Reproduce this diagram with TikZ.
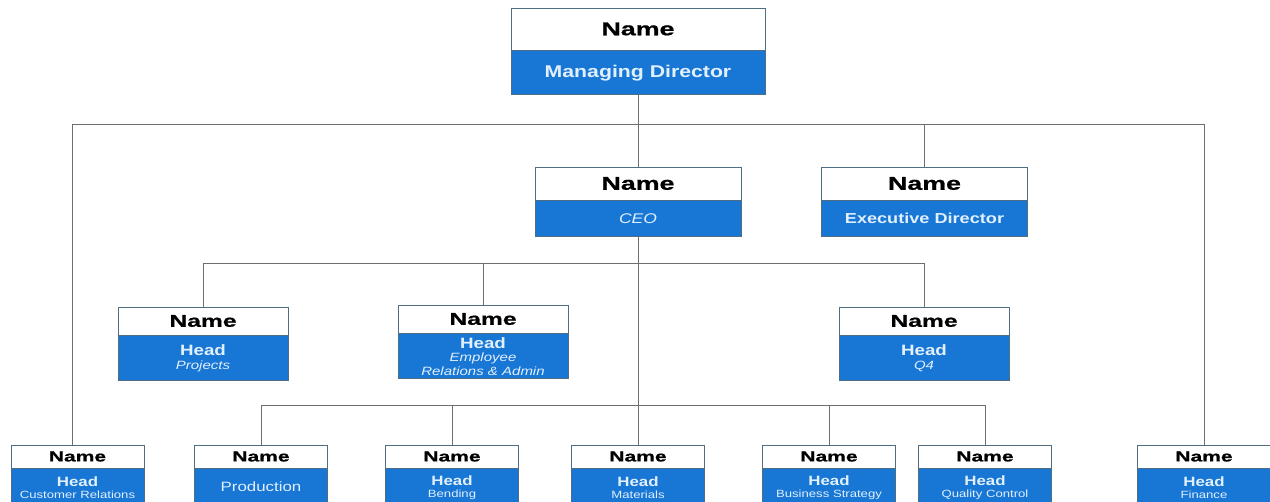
\documentclass[tikz,border=0pt]{standalone}
\usepackage{fontspec}
\setmainfont{Liberation Sans}
\newfontfamily\namefont[FakeStretch=1.45,FakeBold=0.8]{Liberation Sans}
\newfontfamily\labfont[FakeStretch=1.25]{Liberation Sans}
\definecolor{orgblue}{RGB}{24,118,212}
\definecolor{edge}{RGB}{80,110,130}
\definecolor{rolefg}{RGB}{225,240,255}
\definecolor{wire}{RGB}{110,110,110}
\tikzset{
  namecell/.style={draw=edge, line width=0.8pt, fill=white, inner sep=0pt, text=black,
    font=\namefont\bfseries\fontsize{#1}{#1}\selectfont},
  rolecell/.style={draw=edge, line width=0.8pt, fill=orgblue, inner sep=0pt, text=rolefg,
    align=center, anchor=north},
  link/.style={draw=wire, line width=0.9pt},
  bigrole/.style={font=\labfont\bfseries\fontsize{#1}{#1}\selectfont},
  headrole/.style={font=\labfont\bfseries\fontsize{#1}{#1}\selectfont},
}
\newcommand\subit[2]{{\mdseries\itshape\fontsize{#1}{#1}\selectfont #2}}
\newcommand\subrm[2]{{\mdseries\fontsize{#1}{#1}\selectfont #2}}
\begin{document}
\begin{tikzpicture}[x=1pt,y=-1pt]
\clip (0,0) rectangle (1270,502);
\fill[white] (0,0) rectangle (1270,502);

% top level
\node[namecell=18.5, minimum width=254, minimum height=42] (md) at (638,29) {Name};
\node[rolecell, bigrole=17, minimum width=254, minimum height=44] (mdr) at (md.south) {Managing Director};

% second level
\node[namecell=18.5, minimum width=206, minimum height=33] (ceo) at (638,183.5) {Name};
\node[rolecell, minimum width=206, minimum height=36,
  font=\labfont\itshape\fontsize{14}{14}\selectfont] (ceor) at (ceo.south) {CEO};
\node[namecell=18.5, minimum width=206, minimum height=33] (ed) at (924.5,183.5) {Name};
\node[rolecell, bigrole=14.5, minimum width=206, minimum height=36] (edr) at (ed.south) {Executive Director};

% third level
\node[namecell=17, minimum width=170, minimum height=28] (pr) at (203,321) {Name};
\node[rolecell, headrole=15, minimum width=170, minimum height=45] (prr) at (pr.south)
  {Head\\[-1pt]\subit{12}{Projects}};
\node[namecell=17, minimum width=170, minimum height=28] (er) at (483,319) {Name};
\node[rolecell, headrole=15, minimum width=170, minimum height=45] (err) at (er.south)
  {Head\\[-2pt]\subit{12}{Employee}\\[-1pt]\subit{12}{Relations \& Admin}};
\node[namecell=17, minimum width=170, minimum height=28] (q4) at (924,321) {Name};
\node[rolecell, headrole=15, minimum width=170, minimum height=45] (q4r) at (q4.south)
  {Head\\[-1pt]\subit{12}{Q4}};

% bottom level
\foreach \id/\cx/\sub in {cr/77.5/Customer Relations, bd/452/Bending, mt/638/Materials,
    bs/829/Business Strategy, qc/985/Quality Control, fn/1204/Finance}{
  \node[namecell=14.5, minimum width=133, minimum height=23] (\id) at (\cx,456.5) {Name};
  \node[rolecell, headrole=13.5, minimum width=133, minimum height=38] (\id r) at (\id.south)
    {Head\\[-2pt]\subrm{10.5}{\sub}};
}
\node[namecell=14.5, minimum width=133, minimum height=23] (pd) at (261,456.5) {Name};
\node[rolecell, minimum width=133, minimum height=38,
  font=\labfont\fontsize{13.5}{13.5}\selectfont] (pdr) at (pd.south) {\raisebox{2pt}{Production}};

% bus lines
\coordinate (b1) at (638,124);
\coordinate (b2) at (638,263);
\coordinate (b3) at (638,405);

\draw[link] (mdr.south) -- (ceo.north);
\draw[link] ([xshift=-5.5pt]cr.north) -- ([xshift=-5.5pt]cr.north |- b1) -- (b1 -| fn.north) -- (fn.north);
\draw[link] (b1 -| ed.north) -- (ed.north);

\draw[link] (ceor.south) -- (mt.north);
\draw[link] (pr.north) -- (pr.north |- b2) -- (b2 -| q4.north) -- (q4.north);
\draw[link] (b2 -| er.north) -- (er.north);

\draw[link] (pd.north) -- (pd.north |- b3) -- (b3 -| qc.north) -- (qc.north);
\draw[link] (b3 -| bd.north) -- (bd.north);
\draw[link] (b3 -| bs.north) -- (bs.north);
\end{tikzpicture}
\end{document}
